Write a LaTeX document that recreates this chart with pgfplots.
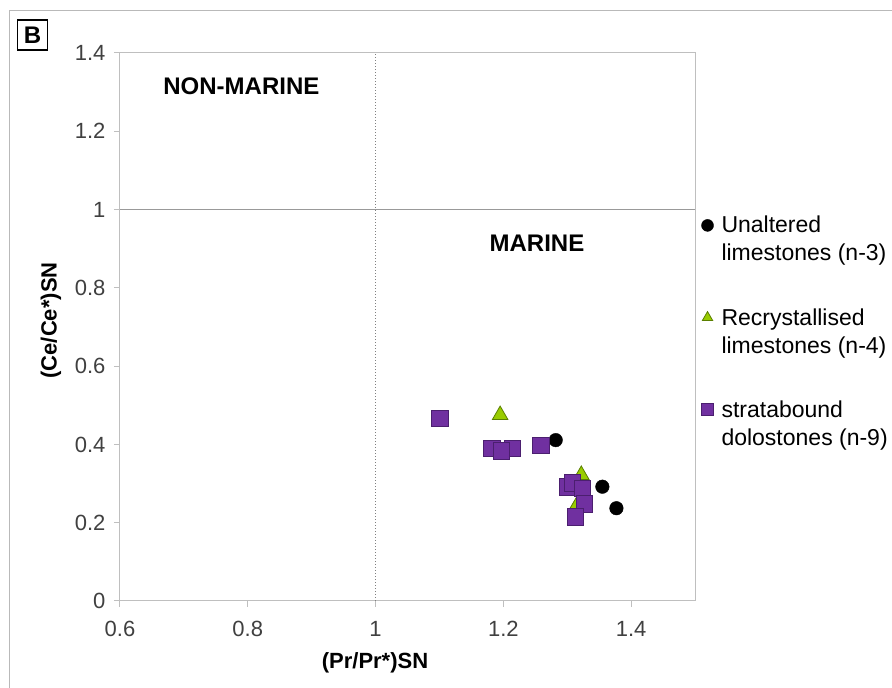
\documentclass[border=0pt]{standalone}
\usepackage{pgfplots}
\pgfplotsset{compat=1.18}
\usepackage{fontspec}
\setmainfont{Liberation Sans}
\definecolor{tickc}{HTML}{404040}
\definecolor{axc}{HTML}{BFBFBF}
\definecolor{purp}{HTML}{7030A0}
\definecolor{purpedge}{HTML}{4B1F6F}
\definecolor{lime}{HTML}{99CC00}
\definecolor{limeedge}{HTML}{5A7F00}
\begin{document}
\begin{tikzpicture}[x=1pt,y=1pt]
\path[use as bounding box] (-120,-87) rectangle (772,601);
\draw[gray!55, line width=1pt] (-110,-87) -- (-110,590) -- (772,590);
\node[draw=black, line width=1.2pt, minimum size=30pt, inner sep=0pt, font=\fontsize{24}{24}\selectfont\bfseries] at (-87.5,566) {B};
\begin{axis}[
  at={(0,0)}, anchor=south west,
  scale only axis, width=575pt, height=548pt,
  xmin=0.6, xmax=1.5, ymin=0, ymax=1.4,
  xtick={0.6,0.8,1,1.2,1.4},
  ytick={0,0.2,0.4,0.6,0.8,1,1.2,1.4},
  axis line style={axc, line width=1pt},
  tick style={axc, line width=1pt},
  tick align=outside, major tick length=6pt,
  xtick pos=lower, ytick pos=left,
  /pgf/number format/assume math mode=true,
  ticklabel style={font=\fontsize{22}{26}\selectfont, text=tickc},
  xticklabel style={yshift=-11pt},
  yticklabel style={xshift=-5pt},
  xlabel={\textbf{(Pr/Pr*)SN}},
  ylabel={\textbf{(Ce/Ce*)SN}},
  label style={font=\fontsize{22}{26}\selectfont},
  xlabel style={at={(axis description cs:0.4435,-0.113)}, anchor=center},
  ylabel style={at={(axis description cs:-0.12,0.512)}, anchor=center},
  clip=false,
  legend style={at={(axis description cs:1.011,0.706)}, anchor=north west,
    draw=none, fill=none, font=\fontsize{23}{28}\selectfont,
    row sep=70pt, column sep=6pt, cells={anchor=west}, inner sep=0pt},
  legend image post style={mark size=6pt},
]
\addplot[forget plot, axc!80!black, line width=1pt] coordinates {(0.6,1) (1.5,1)};
\addplot[forget plot, gray, dotted, line width=1pt] coordinates {(1,0) (1,1.4)};
\addplot[only marks, mark=*, mark size=6.8pt, fill=black, draw=black] coordinates {
(1.282,0.411) (1.355,0.292) (1.377,0.237)};
\addlegendentry{\parbox[t]{200pt}{Unaltered\\limestones (n-3)}}
\addplot[only marks, mark=triangle*, mark size=9pt, fill=lime, draw=limeedge, line width=0.8pt] coordinates {
(1.195,0.475) (1.314,0.241) (1.322,0.322) (1.306,0.300)};
\addlegendentry{\parbox[t]{200pt}{Recrystallised\\limestones (n-4)}}
\addplot[only marks, mark=square*, mark size=8.3pt, fill=purp, draw=purpedge, line width=0.8pt] coordinates {
(1.101,0.467) (1.182,0.390) (1.214,0.390) (1.197,0.383) (1.259,0.398)
(1.300,0.292) (1.308,0.301) (1.324,0.288) (1.327,0.248) (1.313,0.215)};
\addlegendentry{\parbox[t]{200pt}{stratabound\\dolostones (n-9)}}
\node[font=\fontsize{24}{28}\selectfont\bfseries] at (axis cs:0.790,1.316) {NON-MARINE};
\node[font=\fontsize{24}{28}\selectfont\bfseries] at (axis cs:1.2526,0.915) {MARINE};
\end{axis}
\end{tikzpicture}
\end{document}
